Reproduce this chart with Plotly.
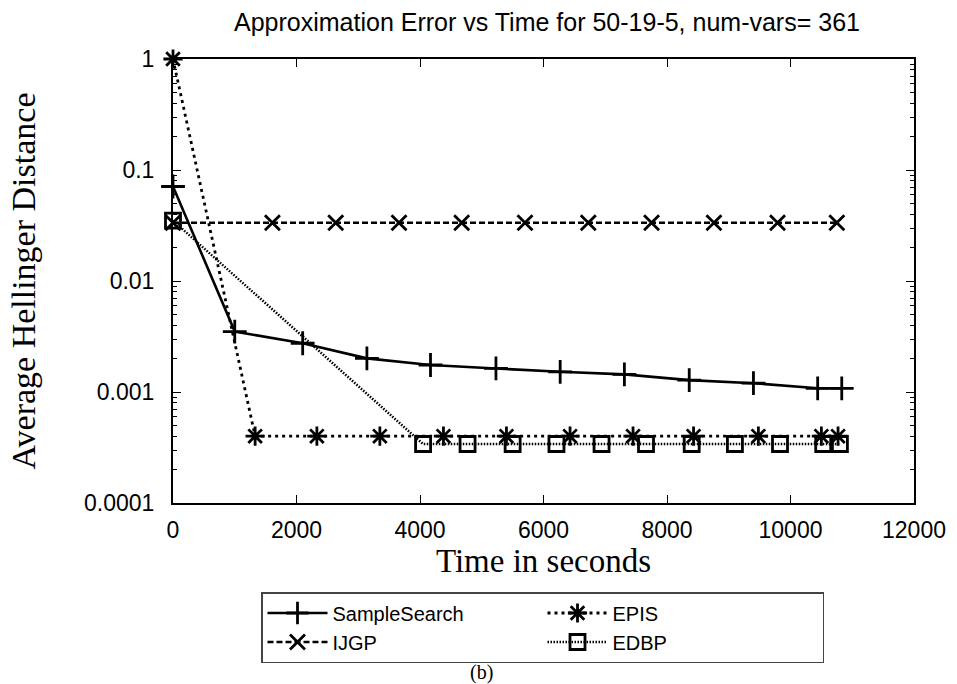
import plotly.graph_objects as go

# ---- data ----
ss_time = [0, 1000, 2100, 3140, 4170, 5230, 6270, 7310, 8360, 9400, 10440, 10830]
ss_err = [0.071, 0.0035, 0.00275, 0.00201, 0.00175, 0.00163, 0.00152, 0.00144,
          0.00128, 0.0012, 0.00108, 0.00108]

ijgp_time = [0, 1610, 2635, 3660, 4675, 5700, 6725, 7750, 8760, 9790, 10750]
ijgp_err = [0.0335, 0.0335, 0.0335, 0.0335, 0.0335, 0.0335, 0.0335, 0.0335,
            0.0335, 0.0335, 0.0335]

epis_time = [0, 1330, 2330, 3350, 4380, 5400, 6430, 7450, 8430, 9480, 10500, 10770]
epis_err = [1.0, 0.0004, 0.0004, 0.0004, 0.0004, 0.0004, 0.0004, 0.0004,
            0.0004, 0.0004, 0.0004, 0.0004]

edbp_time = [0, 4050, 4770, 5500, 6210, 6940, 7660, 8400, 9100, 9830, 10530, 10800]
edbp_err = [0.035, 0.00034, 0.00034, 0.00034, 0.00034, 0.00034, 0.00034, 0.00034,
            0.00034, 0.00034, 0.00034, 0.00034]

x_ticks = [0, 2000, 4000, 6000, 8000, 10000, 12000]
x_tick_text = ["0", "2000", "4000", "6000", "8000", "10000", "12000"]
y_ticks = [1, 0.1, 0.01, 0.001, 0.0001]
y_tick_text = ["1", "0.1", "0.01", "0.001", "0.0001"]

title_text = "Approximation Error vs Time for 50-19-5, num-vars= 361"
x_title = "Time in seconds"
y_title = "Average Hellinger Distance"
caption = "(b)"

SANS = "Liberation Sans, Arial, sans-serif"
SERIF = "Liberation Serif, Times New Roman, serif"

fig = go.Figure()

fig.add_trace(go.Scatter(
    x=ss_time, y=ss_err, name="SampleSearch", mode="lines+markers",
    line=dict(color="black", width=2.6, dash="solid"),
    marker=dict(symbol="cross-thin", size=17, line=dict(color="black", width=2.8)),
    cliponaxis=False, legendrank=1))

fig.add_trace(go.Scatter(
    x=ijgp_time, y=ijgp_err, name="IJGP", mode="lines+markers",
    line=dict(color="black", width=2.6, dash="6px,3px"),
    marker=dict(symbol="x-thin", size=15, line=dict(color="black", width=2.8)),
    cliponaxis=False, legendrank=3))

fig.add_trace(go.Scatter(
    x=epis_time, y=epis_err, name="EPIS", mode="lines+markers",
    line=dict(color="black", width=2.8, dash="3px,4px"),
    marker=dict(symbol="asterisk", size=16, line=dict(color="black", width=2.8)),
    cliponaxis=False, legendrank=2))

fig.add_trace(go.Scatter(
    x=edbp_time, y=edbp_err, name="EDBP", mode="lines+markers",
    line=dict(color="black", width=2.5, dash="1.5px,1.5px"),
    marker=dict(symbol="square-open", size=15, color="black",
                line=dict(color="black", width=2.8)),
    cliponaxis=False, legendrank=4))

fig.update_layout(
    width=957, height=684,
    margin=dict(l=173, r=43, t=59, b=181),
    paper_bgcolor="white", plot_bgcolor="white",
    title=dict(text=title_text, x=547 / 957, xanchor="center",
               y=1 - 22 / 684, yanchor="middle", yref="container",
               font=dict(family=SANS, size=25, color="black")),
    showlegend=True,
    legend=dict(orientation="h", xref="container", yref="container",
                x=261 / 957, xanchor="left", y=1 - 592 / 684, yanchor="top",
                entrywidth=205, entrywidthmode="pixels",
                font=dict(family=SANS, size=20, color="black"),
                bordercolor="#444444", borderwidth=1.5, bgcolor="white",
                itemwidth=60, tracegroupgap=0),
    font=dict(family=SANS, color="black"),
)

fig.update_xaxes(
    range=[0, 12000], tickvals=x_ticks, ticktext=x_tick_text,
    ticks="inside", ticklen=8, tickwidth=1.2, tickcolor="black",
    showline=True, linecolor="black", linewidth=2, mirror="ticks",
    showgrid=False, zeroline=False,
    tickfont=dict(family=SANS, size=23, color="black"),
    ticklabelstandoff=5,
    title=dict(text=x_title, standoff=6,
               font=dict(family=SERIF, size=33, color="black")),
)

fig.update_yaxes(
    type="log", range=[-4, 0], tickvals=y_ticks, ticktext=y_tick_text,
    ticks="inside", ticklen=8, tickwidth=1.2, tickcolor="black",
    showline=True, linecolor="black", linewidth=2, mirror="ticks",
    showgrid=False, zeroline=False,
    minor=dict(ticks="inside", ticklen=4, tickwidth=1, tickcolor="black",
               showgrid=False, dtick="D1"),
    tickfont=dict(family=SANS, size=23, color="black"),
    ticklabelstandoff=12,
    title=dict(text=y_title, standoff=38,
               font=dict(family=SERIF, size=34, color="black")),
)

fig.add_annotation(text=caption, xref="paper", yref="paper",
                   x=(481 - 173) / 741, y=-(673 - 503) / 444,
                   xanchor="center", yanchor="middle", showarrow=False,
                   font=dict(family=SERIF, size=20, color="black"))

fig.write_html("out.html")
